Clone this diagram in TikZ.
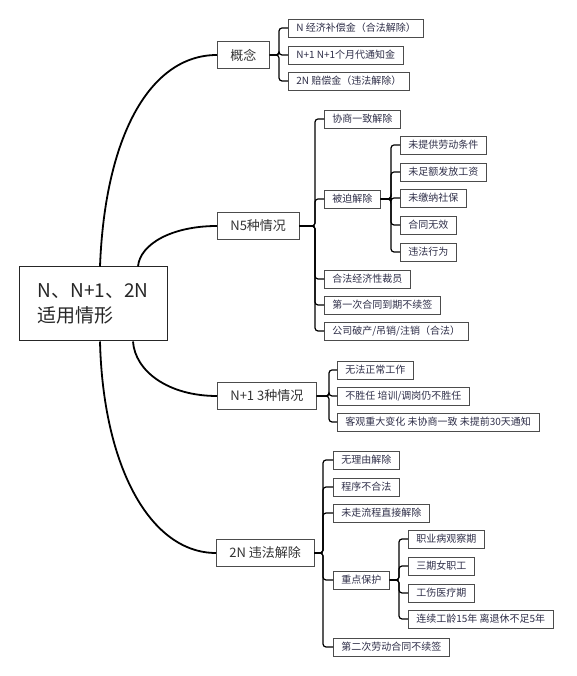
\documentclass[tikz,border=0pt]{standalone}
\usepackage{fontspec}
\setmainfont{Noto Sans CJK SC}
\usepackage{xcolor}
\usepackage{tikz}
\definecolor{ink}{HTML}{2E2E48}

\begin{document}
\begin{tikzpicture}[x=1pt,y=1pt,
  root/.style={draw=black!85,line width=1pt,align=left,inner xsep=17pt,minimum width=148pt,minimum height=74pt,font=\fontsize{19}{25}\selectfont,text=black!85},
  topic/.style={draw=black!70,line width=0.7pt,anchor=west,inner xsep=13pt,minimum height=27pt,font=\fontsize{13}{15}\selectfont,text=black!80},
  leaf/.style={draw=black!70,line width=0.6pt,anchor=west,inner xsep=8pt,inner ysep=0pt,minimum height=18pt,font=\fontsize{10}{12}\selectfont,text=ink},
  trunk/.style={line width=1.8pt},
  branch/.style={line width=1.2pt,rounded corners=3pt}]
\useasboundingbox (0,0) rectangle (576,676);
\node[root] (1) at (93,372) {N、N+1、2N\\适用情形};
\node[topic] (2) at (217,621) {概念};
\node[topic] (3) at (217,450) {N5种情况};
\node[topic] (4) at (217,280) {N+1 3种情况};
\node[topic] (5) at (216,123) {2N 违法解除};
% 概念
\node[leaf] (6) at (288,648) {N 经济补偿金（合法解除）};
\node[leaf] (7) at (288,621) {N+1 N+1个月代通知金};
\node[leaf] (8) at (288,595) {2N 赔偿金（违法解除）};
% N5种情况
\node[leaf] (9) at (324,557) {协商一致解除};
\node[leaf] (10) at (324,477) {被迫解除};
\node[leaf] (11) at (324,397) {合法经济性裁员};
\node[leaf] (12) at (324,371) {第一次合同到期不续签};
\node[leaf] (13) at (324,345) {公司破产/吊销/注销（合法）};
\node[leaf] (14) at (400,531) {未提供劳动条件};
\node[leaf] (15) at (400,504) {未足额发放工资};
\node[leaf] (16) at (400,478) {未缴纳社保};
\node[leaf] (17) at (400,451) {合同无效};
\node[leaf] (18) at (400,424) {违法行为};
% N+1 3种情况
\node[leaf] (19) at (337,306) {无法正常工作};
\node[leaf] (20) at (337,280) {不胜任 培训/调岗仍不胜任};
\node[leaf] (21) at (337,254) {客观重大变化 未协商一致 未提前30天通知};
% 2N 违法解除
\node[leaf] (22) at (333,216) {无理由解除};
\node[leaf] (23) at (333,189) {程序不合法};
\node[leaf] (24) at (333,163) {未走流程直接解除};
\node[leaf] (25) at (333,96) {重点保护};
\node[leaf] (26) at (333,29) {第二次劳动合同不续签};
\node[leaf] (27) at (408,137) {职业病观察期};
\node[leaf] (28) at (408,110) {三期女职工};
\node[leaf] (29) at (408,83) {工伤医疗期};
\node[leaf] (30) at (408,57) {连续工龄15年 离退休不足5年};
\draw[trunk] ([xshift=7pt]1.north) .. controls (105,540) and (150,621) .. (2.west);
\draw[trunk] ([xshift=45pt]1.north) .. controls (140,432) and (172,450) .. (3.west);
\draw[trunk] ([xshift=40pt]1.south) .. controls (135,305) and (168,280) .. (4.west);
\draw[trunk] ([xshift=7pt]1.south) .. controls (103,210) and (150,123) .. (5.west);
\foreach \c in {6,7,8} \draw[branch] (\c.west) -- ++(-9,0) |- (2.east);
\foreach \c in {9,10,11,12,13} \draw[branch] (\c.west) -- ++(-9,0) |- (3.east);
\foreach \c in {14,15,16,17,18} \draw[branch] (\c.west) -- ++(-9,0) |- (10.east);
\foreach \c in {19,20,21} \draw[branch] (\c.west) -- ++(-8,0) |- (4.east);
\foreach \c in {22,23,24,25,26} \draw[branch] (\c.west) -- ++(-10,0) |- (5.east);
\foreach \c in {27,28,29,30} \draw[branch] (\c.west) -- ++(-9,0) |- (25.east);
\end{tikzpicture}
\end{document}
